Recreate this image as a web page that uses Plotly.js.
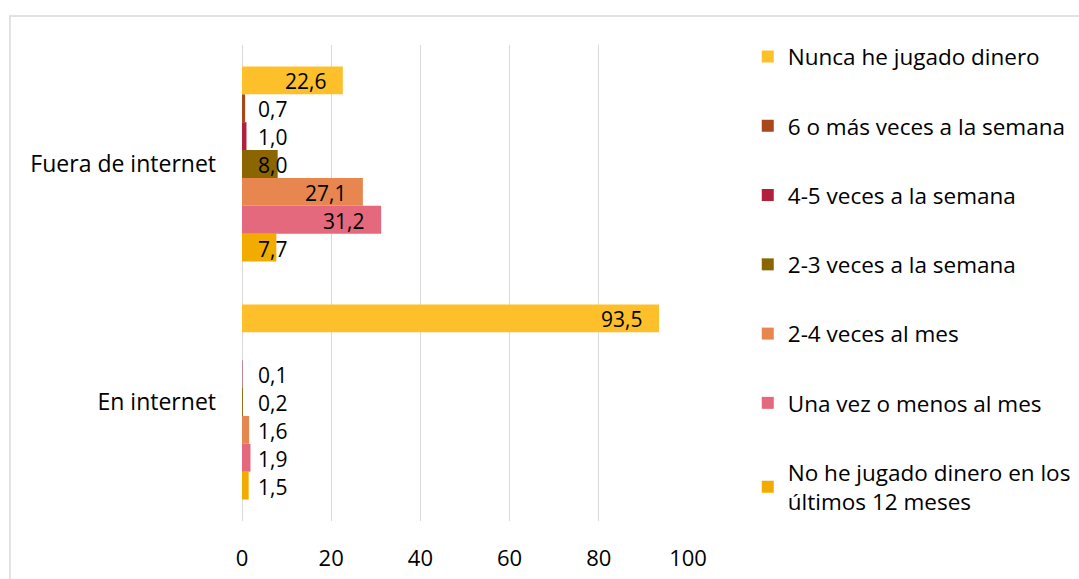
<!DOCTYPE html>
<html>
<head>
<meta charset="utf-8">
<script src="https://cdn.plot.ly/plotly-3.0.1.min.js"></script>
<style>html,body{margin:0;padding:0;background:#fff;}#chart{width:1079px;height:579px;}</style>
</head>
<body>
<div id="chart"></div>
<script>
// Categories (bottom to top on the axis)
const categories = ['En internet', 'Fuera de internet'];

// Series names in legend order (top to bottom)
const seriesNames = [
  'Nunca he jugado dinero',
  '6 o más veces a la semana',
  '4-5 veces a la semana',
  '2-3 veces a la semana',
  '2-4 veces al mes',
  'Una vez o menos al mes',
  'No he jugado dinero en los<br>últimos 12 meses'
];

// Values per series: [En internet, Fuera de internet]
const nuncaJugado      = [93.5, 22.6];
const seisOMas         = [null, 0.7];
const cuatroCinco      = [0.1, 1.0];
const dosTres          = [0.2, 8.0];
const dosCuatroMes     = [1.6, 27.1];
const unaVezMenos      = [1.9, 31.2];
const noUltimos12      = [1.5, 7.7];

const seriesValues = [nuncaJugado, seisOMas, cuatroCinco, dosTres, dosCuatroMes, unaVezMenos, noUltimos12];
const seriesColors = ['#FEC02A', '#A8471A', '#B11F3A', '#8B6500', '#E88650', '#E5697C', '#F2AC00'];

const xTicks = [0, 20, 40, 60, 80, 100];

const FONT = 'Open Sans, Lato, sans-serif';
const bargap = 0.18;
const nSeries = seriesNames.length;

// Plotly places group members bottom-to-top in trace order, so add in reverse
const traces = [];
const annotations = [];
for (let k = nSeries - 1; k >= 0; k--) {
  const j = nSeries - 1 - k; // position within group from bottom
  traces.push({
    type: 'bar',
    orientation: 'h',
    name: seriesNames[k],
    y: categories,
    x: seriesValues[k],
    marker: {color: seriesColors[k]},
    legendgroup: 'g' + k,
    legendrank: k + 1,
    hoverinfo: 'x+name'
  });
  const w = (1 - bargap) / nSeries;
  const off = -(1 - bargap) / 2 + (j + 0.5) * w;
  seriesValues[k].forEach((v, ci) => {
    if (v === null || v === undefined) return;
    const big = v >= 12;
    annotations.push({
      xref: 'x', yref: 'y',
      x: big ? v : 0,
      y: ci + off,
      text: v.toFixed(1).replace('.', ','),
      showarrow: false,
      xanchor: big ? 'right' : 'left',
      yanchor: 'middle',
      xshift: big ? -15 : 14,
      yshift: -1,
      font: {family: FONT, size: 21, color: '#000'}
    });
  });
}

const layout = {
  width: 1079,
  height: 579,
  margin: {l: 242, r: 391, t: 45, b: 58, autoexpand: false},
  paper_bgcolor: '#fff',
  plot_bgcolor: '#fff',
  barmode: 'group',
  bargap: bargap,
  bargroupgap: 0,
  font: {family: FONT, size: 23, color: '#000'},
  showlegend: true,
  legend: {
    x: 1.134, xanchor: 'left',
    y: 1.02, yanchor: 'top',
    traceorder: 'grouped',
    tracegroupgap: 37,
    maxheight: 575,
    font: {family: FONT, size: 22.5, color: '#000'},
    bgcolor: 'rgba(0,0,0,0)'
  },
  xaxis: {
    range: [0, 100],
    tickvals: xTicks,
    ticktext: xTicks.map(String),
    showgrid: true,
    gridcolor: '#d9d9d9',
    gridwidth: 1,
    zeroline: true,
    zerolinecolor: '#d9d9d9',
    zerolinewidth: 1,
    showline: false,
    ticks: '',
    ticklabelstandoff: 22,
    tickfont: {family: FONT, size: 22, color: '#000'},
    fixedrange: true
  },
  yaxis: {
    type: 'category',
    categoryorder: 'array',
    categoryarray: categories,
    range: [-0.5, 1.5],
    showgrid: false,
    zeroline: false,
    showline: false,
    ticks: '',
    ticklabelstandoff: 25,
    tickfont: {family: FONT, size: 23, color: '#000'},
    fixedrange: true
  },
  annotations: annotations,
  shapes: [{
    type: 'rect', xref: 'paper', yref: 'paper',
    x0: -0.5203, x1: 1.95, y0: -0.2, y1: 1.061,
    line: {color: '#d9d9d9', width: 1.5},
    fillcolor: 'rgba(0,0,0,0)',
    layer: 'below'
  }]
};

Plotly.newPlot('chart', traces, layout, {displayModeBar: false, staticPlot: true});
</script>
</body>
</html>
